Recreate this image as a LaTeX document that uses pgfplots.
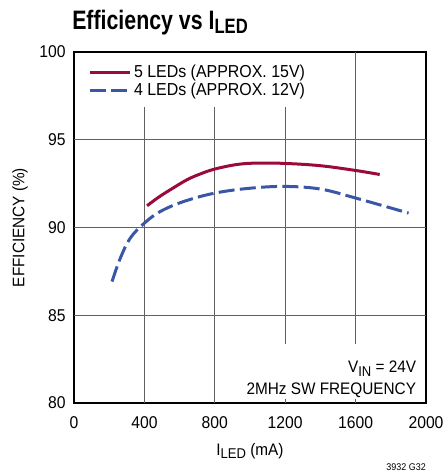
\documentclass[border=0pt]{standalone}
\usepackage{fontspec}
\setmainfont{Liberation Sans}[FakeStretch=0.92]
\newfontfamily\titlefont{Liberation Sans}[FakeStretch=0.80]
\usepackage{pgfplots}
\pgfplotsset{compat=1.18}
\definecolor{cred}{HTML}{9A0A3C}
\definecolor{cblue}{HTML}{3A57A7}
\definecolor{cgrid}{HTML}{606060}
\newcommand\sub[1]{\raisebox{-0.35ex}{\scalebox{0.85}{#1}}}
\begin{document}
\begin{tikzpicture}
\fontsize{12.5}{15}\selectfont
\path[use as bounding box] (-55.5pt,-52.5pt) rectangle (278.25pt,302.25pt);
\begin{axis}[
  at={(0,0)}, anchor=south west,
  width=264pt, height=263.25pt, scale only axis,
  xmin=0, xmax=2000, ymin=80, ymax=100,
  xtick={0,400,...,2000}, ytick={80,85,...,100},
  major tick length=0pt,
  axis line style={line width=1.5pt},
  /pgf/number format/assume math mode=true,
  /pgf/number format/1000 sep={},
  tick label style={font=\fontsize{12.8}{15}\selectfont},
  xticklabel style={yshift=-5.5pt},
  yticklabel style={xshift=-2pt},
  legend style={at={(rel axis cs:0.04,0.972)}, anchor=north west, draw=none, fill=none,
    font=\fontsize{13}{15}\selectfont, row sep=-1.5pt, inner sep=0pt,
    /tikz/every even column/.append style={column sep=7.5pt}},
  legend cell align=left,
  legend image code/.code={\draw[#1] (0pt,0pt) -- (30pt,0pt);},
  clip=false,
]
\draw[cgrid, line width=0.75pt] (axis cs:0,85) -- (axis cs:2000,85);
\draw[cgrid, line width=0.75pt] (axis cs:0,90) -- (axis cs:2000,90);
\draw[cgrid, line width=0.75pt] (axis cs:0,95) -- (axis cs:2000,95);
\draw[cgrid, line width=0.75pt] (axis cs:400,96.86) -- (axis cs:400,80);
\draw[cgrid, line width=0.75pt] (axis cs:800,96.86) -- (axis cs:800,80);
\draw[cgrid, line width=0.75pt] (axis cs:1200,96.86) -- (axis cs:1200,83.37);
\draw[cgrid, line width=0.75pt] (axis cs:1600,100) -- (axis cs:1600,83.37);
\draw[cgrid, line width=0.75pt] (axis cs:1200,80.25) -- (axis cs:1200,80);
\draw[cgrid, line width=0.75pt] (axis cs:1600,80.25) -- (axis cs:1600,80);
\addplot[cred, line width=2.25pt, smooth, tension=0.6] coordinates {
(415,91.24) (480,91.72) (547,92.15) (642,92.72) (720,93.06) (800,93.33) (926,93.59) (1040,93.67)
(1200,93.65) (1400,93.52) (1600,93.25) (1737,93.02)};
\addlegendentry{5 LEDs (APPROX. 15V)}
\addplot[cblue, line width=2.25pt, dash pattern=on 12pt off 4pt, smooth, tension=0.6] coordinates {
(216,86.92) (263,88.25) (320,89.4) (400,90.25) (490,90.91) (623,91.48)
(800,91.96) (1002,92.24) (1200,92.34) (1400,92.19) (1600,91.68) (1901,90.82)};
\addlegendentry{4 LEDs (APPROX. 12V)}
\node[anchor=base east, inner sep=0pt] at (axis cs:1945,81.71) {V\sub{IN} = 24V};
\node[anchor=base east, inner sep=0pt] at (axis cs:1945,80.51) {2MHz SW FREQUENCY};
\end{axis}
\node[rotate=90, inner sep=0pt] at (-40.5pt,131.6pt) {EFFICIENCY (\%)};
\node[anchor=base, inner sep=0pt] at (132pt,-39pt) {I\sub{LED} (mA)};
\node[anchor=base west, inner sep=0pt, font=\titlefont\bfseries\fontsize{20}{24}\selectfont] at (-1.5pt,280pt) {Efficiency vs I\raisebox{-0.3ex}{\scalebox{0.78}{LED}}};
\node[anchor=base east, inner sep=0pt, font=\fontsize{7.3}{9}\selectfont] at (264pt,-50.25pt) {3932 G32};
\end{tikzpicture}
\end{document}
